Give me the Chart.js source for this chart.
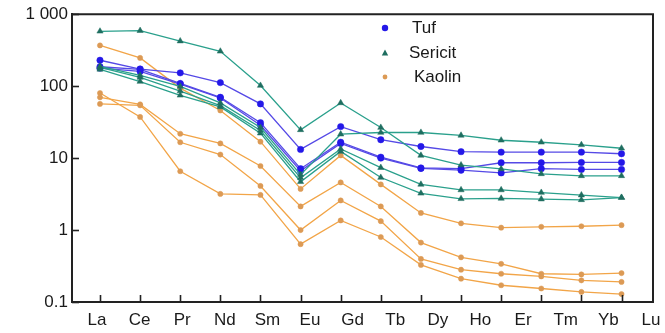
<!DOCTYPE html>
<html><head><meta charset="utf-8">
<script src="https://cdn.jsdelivr.net/npm/chart.js@4/dist/chart.umd.min.js"></script>
<style>html,body{margin:0;padding:0;background:#fff;}</style>
</head><body>
<canvas id="c" width="665" height="333"></canvas>
<script>
const elements = ['La','Ce','Pr','Nd','Sm','Eu','Gd','Tb','Dy','Ho','Er','Tm','Yb','Lu'];
const yTickValues = [0.1, 1, 10, 100, 1000];
const yTickLabels = ['0.1', '1', '10', '100', '1 000'];
const legendLabels = ['Tuf', 'Sericit', 'Kaolin'];

const tuf1 = [229,173,153,112,56.7,13.2,27.4,18.0,14.5,12.3,12.1,12.1,12.1,11.5];
const tuf2 = [186,171,109,70,31.1,7.13,16.6,10.3,7.3,7.13,8.62,8.62,8.7,8.7];
const tuf3 = [178,160,107,68.5,28.6,6.64,16.0,10.0,7.18,6.79,6.23,7.13,6.96,6.96];

const sericit1 = [579,590,423,305,102,24.7,58.5,26.6,10.9,8.0,7.07,6.04,5.67,5.67];
const sericit2 = [188,141,99,58.5,26.6,5.9,21.5,22.7,22.7,20.7,17.7,16.6,15.3,13.7];
const sericit3 = [182,132,85.5,53.7,24.2,5.32,13.4,7.37,4.31,3.61,3.61,3.32,3.06,2.83];
const sericit4 = [171,116,74.6,51.5,22.2,4.69,12.4,5.37,3.24,2.72,2.75,2.69,2.63,2.83];

const kaolin1 = [368,247,94,45.9,16.9,3.73,10.9,4.31,1.73,1.24,1.08,1.11,1.13,1.17];
const kaolin2 = [70,55.8,21.8,16.0,7.77,2.13,4.59,2.13,0.67,0.418,0.339,0.247,0.242,0.252];
const kaolin3 = [56.7,54.1,16.6,11.2,4.10,1.0,2.58,1.33,0.397,0.281,0.247,0.227,0.2,0.19];
const kaolin4 = [80.2,37.3,6.57,3.18,3.08,0.637,1.36,0.80,0.328,0.211,0.171,0.154,0.138,0.129];

const COL = {
  tuf:     {line: '#5549e6', point: '#2418e8', style: 'circle', r: 3.2},
  sericit: {line: '#2aa08c', point: '#1f6e60', style: 'triangle', r: 3.6},
  kaolin:  {line: '#f2a548', point: '#dc9a55', style: 'circle', r: 2.6}
};
const FONT = '"Liberation Sans", Arial, sans-serif';

function ds(values, kind, order) {
  const c = COL[kind];
  return {
    data: values.map((v, i) => ({x: i, y: v})),
    borderColor: c.line, backgroundColor: c.point,
    pointBackgroundColor: c.point, pointBorderColor: c.point,
    pointStyle: c.style, pointRadius: c.r, pointBorderWidth: 0.5,
    borderWidth: 1.3, tension: 0, fill: false, order: order,
    xAxisID: 'x', yAxisID: 'y'
  };
}

const datasets = [
  ds(kaolin1,'kaolin',3), ds(kaolin2,'kaolin',3), ds(kaolin3,'kaolin',3), ds(kaolin4,'kaolin',3),
  ds(tuf1,'tuf',2), ds(tuf2,'tuf',2), ds(tuf3,'tuf',2),
  ds(sericit1,'sericit',1), ds(sericit2,'sericit',1), ds(sericit3,'sericit',1), ds(sericit4,'sericit',1)
];

const frameAndTicks = {
  id: 'frameAndTicks',
  afterDraw(chart) {
    const ctx = chart.ctx, a = chart.chartArea;
    const xs = chart.scales.x, ys = chart.scales.y;
    ctx.save();
    ctx.strokeStyle = '#222'; ctx.lineWidth = 1.6;
    elements.forEach((_, i) => {
      const px = Math.round(xs.getPixelForValue(i)) + 0.5;
      ctx.beginPath(); ctx.moveTo(px, a.bottom); ctx.lineTo(px, a.bottom - 7); ctx.stroke();
    });
    yTickValues.forEach(v => {
      const py = Math.round(ys.getPixelForValue(v)) + 0.5;
      ctx.beginPath(); ctx.moveTo(a.left, py); ctx.lineTo(a.left + 7, py); ctx.stroke();
    });
    ctx.lineWidth = 2;
    ctx.beginPath();
    ctx.moveTo(a.left, a.top); ctx.lineTo(a.right, a.top); ctx.lineTo(a.right, a.bottom);
    ctx.stroke();
    // legend
    const kinds = ['tuf', 'sericit', 'kaolin'];
    const rowsY = [28, 53, 77];
    const textX = [412, 409, 414];
    ctx.font = '17px ' + FONT;
    ctx.textBaseline = 'middle'; ctx.textAlign = 'left'; ctx.fillStyle = '#1a1a1a';
    kinds.forEach((k, i) => {
      const c = COL[k];
      const mx = 385, my = rowsY[i];
      ctx.fillStyle = c.point;
      if (c.style === 'triangle') {
        ctx.beginPath(); ctx.moveTo(mx, my - 3.5); ctx.lineTo(mx + 3.2, my + 2.5); ctx.lineTo(mx - 3.2, my + 2.5); ctx.closePath(); ctx.fill();
      } else {
        ctx.beginPath(); ctx.arc(mx, my, k === 'tuf' ? 3.2 : 2.4, 0, Math.PI * 2); ctx.fill();
      }
      ctx.fillStyle = '#1a1a1a';
      ctx.fillText(legendLabels[i], textX[i], my);
    });
    ctx.restore();
  }
};

new Chart(document.getElementById('c'), {
  type: 'line',
  data: { datasets },
  options: {
    responsive: false, animation: false,
    layout: { padding: { left: 0, right: 12, top: 10, bottom: 0 } },
    plugins: { legend: { display: false }, tooltip: { enabled: false } },
    scales: {
      x: {
        type: 'linear', display: false, min: -0.698, max: 13.785
      },
      xl: {
        type: 'linear', position: 'bottom', min: -0.3734, max: 13.26,
        grid: { display: false, drawTicks: false },
        border: { display: true, color: '#222', width: 2 },
        afterBuildTicks: s => { s.ticks = elements.map((_, i) => ({ value: i })); },
        afterFit: s => { s.height = 31; },
        ticks: {
          autoSkip: false, maxRotation: 0, padding: 8, labelOffset: 9,
          color: '#1a1a1a', font: { size: 17, family: FONT },
          callback: v => elements[v]
        }
      },
      y: {
        type: 'logarithmic', position: 'left', min: 0.1, max: 1000,
        grid: { display: false, drawTicks: false },
        border: { display: true, color: '#222', width: 2 },
        afterBuildTicks: s => { s.ticks = yTickValues.map(v => ({ value: v, major: true })); },
        afterFit: s => { s.width = 72; },
        ticks: {
          padding: 4, color: '#1a1a1a', font: { size: 17, family: FONT },
          callback: v => yTickLabels[yTickValues.indexOf(v)]
        }
      }
    }
  },
  plugins: [frameAndTicks]
});
</script>
</body></html>
